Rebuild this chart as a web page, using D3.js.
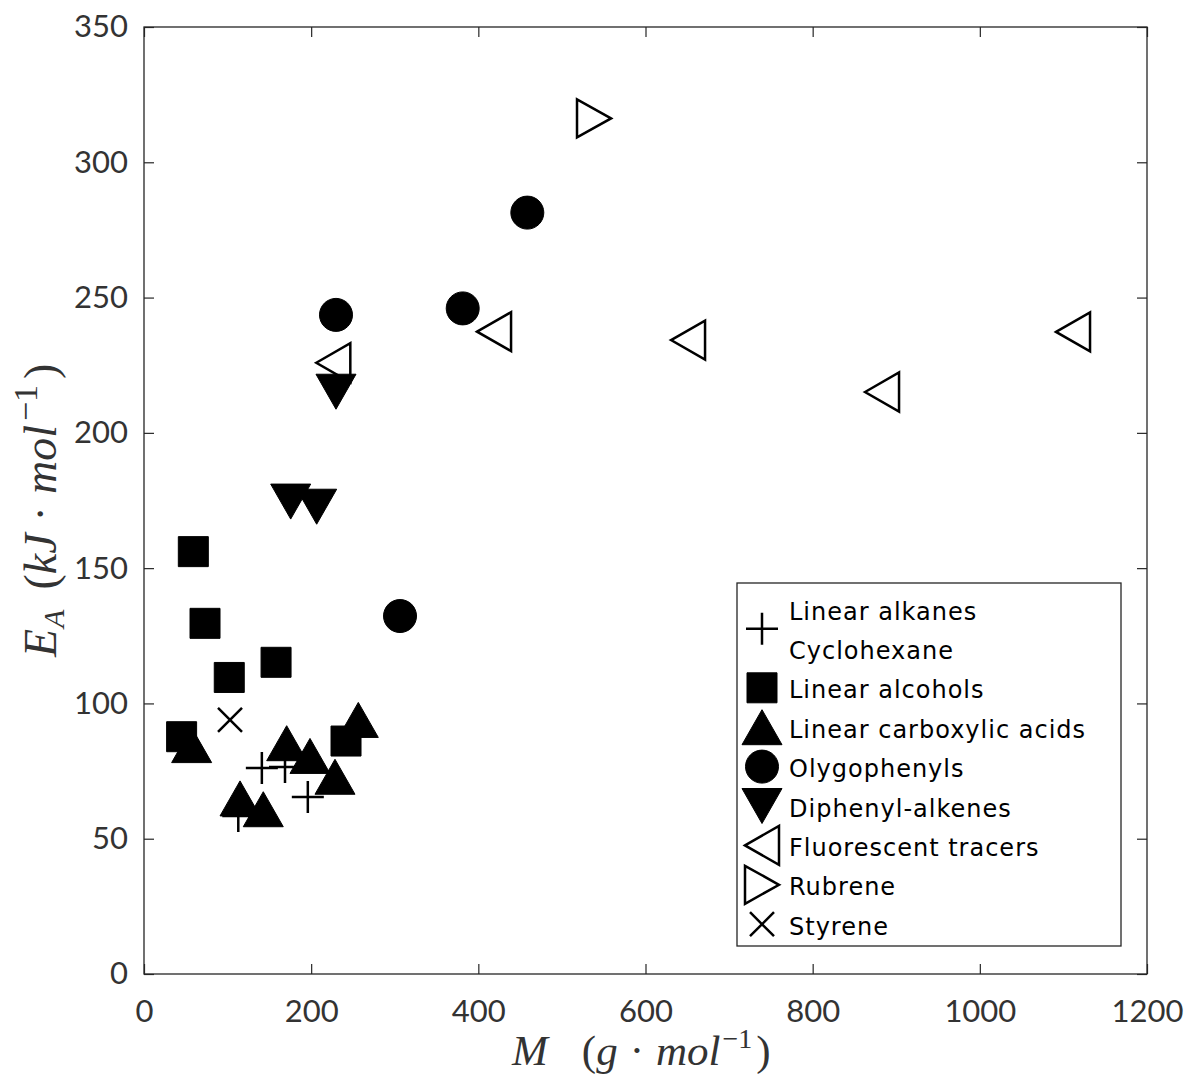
<!DOCTYPE html>
<html>
<head>
<meta charset="utf-8">
<script src="https://cdn.jsdelivr.net/npm/d3@7"></script>
<style>
  body { margin: 0; background: #fff; }
  .tick text { font-family: Lato, sans-serif; font-size: 31px; fill: #333; }
  .tick line { stroke: #262626; stroke-width: 1.2; }
</style>
</head>
<body>
<div class="vis-scatter"></div>
<script>
// axis ticks
const xTicks = [0, 200, 400, 600, 800, 1000, 1200];
const yTicks = [0, 50, 100, 150, 200, 250, 300, 350];

// series (M in g/mol, EA in kJ/mol)
const alkanesM = [112.8, 141, 168.7, 196];
const alkanesE = [58.4, 76.1, 76.5, 65.4];
const alcoholsM = [59, 73, 102, 158, 45, 241.7];
const alcoholsE = [156.1, 129.6, 109.6, 115.2, 87.7, 86.1];
const acidsM = [57, 114.9, 142.7, 170.7, 198.6, 228.5, 256.4];
const acidsE = [84.6, 64.9, 60.9, 85.3, 80.6, 72.9, 93.9];
const phenylsM = [229.7, 381.3, 458.6, 306.3];
const phenylsE = [243.6, 246, 281.4, 132.3];
const alkenesM = [229.7, 175.5, 206.6];
const alkenesE = [215.2, 174.6, 172.7];
const tracersM = [226.5, 418.8, 650.9, 883, 1111.5];
const tracersE = [225.9, 237.4, 234.3, 215.1, 237.3];
const rubreneM = [538.4];
const rubreneE = [316.2];
const styreneM = [102.9];
const styreneE = [93.9];

const seriesNames = [
    ['Linear alkanes', 'Cyclohexane'],
    ['Linear alcohols'],
    ['Linear carboxylic acids'],
    ['Olygophenyls'],
    ['Diphenyl-alkenes'],
    ['Fluorescent tracers'],
    ['Rubrene'],
    ['Styrene'],
];
const seriesShapes = ['plus', 'square', 'up', 'circle', 'down', 'left', 'right', 'times'];
const seriesM = [alkanesM, alcoholsM, acidsM, phenylsM, alkenesM, tracersM, rubreneM, styreneM];
const seriesE = [alkanesE, alcoholsE, acidsE, phenylsE, alkenesE, tracersE, rubreneE, styreneE];

// marker paths centred on 0,0
const markers = {
    plus: 'M-16,0H16M0,-16V16',
    times: 'M-12,-12L12,12M-12,12L12,-12',
    square: 'M-15,-15H15V15H-15Z',
    circle: 'M16.5,0A16.5,16.5 0 1,1 -16.5,0A16.5,16.5 0 1,1 16.5,0Z',
    up: 'M0,-17.5L20,17.5L-20,17.5Z',
    down: 'M0,17.5L20,-17.5L-20,-17.5Z',
    left: 'M-17,0L17,-19.5L17,19.5Z',
    right: 'M17,0L-17,-19L-17,19Z',
};
const filled = { square: true, circle: true, up: true, down: true };

const styleMarker = (sel, shape) => {
    sel.attr('d', markers[shape])
        .attr('fill', filled[shape] ? '#000' : 'none')
        .attr('stroke', '#000')
        .attr('stroke-width', filled[shape] ? 1 : 2.5)
        .attr('stroke-linejoin', 'miter');
};

const W = 1185, H = 1082;
const margin = { top: 27, right: 38, bottom: 108, left: 144 };
const width = W - margin.left - margin.right;
const height = H - margin.top - margin.bottom;

const svg = d3.select('.vis-scatter')
    .append('svg')
    .attr('width', W)
    .attr('height', H);

const g = svg.append('g')
    .attr('transform', 'translate(' + margin.left + ',' + margin.top + ')');

const x = d3.scaleLinear().domain([0, 1200]).range([0, width]);
const y = d3.scaleLinear().domain([0, 350]).range([height, 0]);

// axes, ticks pointing inwards
g.append('g')
    .attr('transform', 'translate(0,' + height + ')')
    .call(d3.axisBottom(x).tickValues(xTicks).tickFormat(d3.format('d'))
        .tickSizeInner(-10).tickSizeOuter(0).tickPadding(26))
    .call(a => a.select('.domain').remove());
g.append('g')
    .call(d3.axisLeft(y).tickValues(yTicks).tickFormat(d3.format('d'))
        .tickSizeInner(-10).tickSizeOuter(0).tickPadding(16))
    .call(a => a.select('.domain').remove());
g.append('g')
    .call(d3.axisTop(x).tickValues(xTicks).tickSizeInner(-10).tickSizeOuter(0).tickFormat(''))
    .call(a => a.select('.domain').remove());
g.append('g')
    .attr('transform', 'translate(' + width + ',0)')
    .call(d3.axisRight(y).tickValues(yTicks).tickSizeInner(-10).tickSizeOuter(0).tickFormat(''))
    .call(a => a.select('.domain').remove());

g.append('rect')
    .attr('width', width)
    .attr('height', height)
    .attr('fill', 'none')
    .attr('stroke', '#262626')
    .attr('stroke-width', 1.3);

// points
seriesShapes.forEach((shape, i) => {
    g.append('g')
        .selectAll('path')
        .data(seriesM[i].map((m, j) => [m, seriesE[i][j]]))
        .join('path')
        .attr('transform', d => 'translate(' + x(d[0]) + ',' + y(d[1]) + ')')
        .call(styleMarker, shape);
});

// legend
const legend = svg.append('g').attr('transform', 'translate(737,583)');
legend.append('rect')
    .attr('width', 384)
    .attr('height', 363)
    .attr('fill', '#fff')
    .attr('stroke', '#262626')
    .attr('stroke-width', 1.3);

const rowH = 39.4;
let row = 0;
seriesNames.forEach((names, i) => {
    const cy = 28 + rowH * (row + (names.length - 1) / 2);
    legend.append('path')
        .attr('transform', 'translate(25,' + (cy - 2) + ')')
        .call(styleMarker, seriesShapes[i]);
    names.forEach((name, k) => {
        legend.append('text')
            .attr('x', 52)
            .attr('y', 28 + rowH * (row + k) + 8.5)
            .attr('font-family', '"DejaVu Sans", sans-serif')
            .attr('font-size', 24)
            .attr('letter-spacing', 1)
            .attr('fill', '#000')
            .text(name);
    });
    row += names.length;
});

// axis labels
const xl = svg.append('text')
    .attr('x', 512)
    .attr('y', 1065)
    .attr('font-family', '"Liberation Serif", serif')
    .attr('font-size', 43)
    .attr('fill', '#333');
xl.append('tspan').attr('font-style', 'italic').text('M');
xl.append('tspan').attr('dx', 34).text('(');
xl.append('tspan').attr('font-style', 'italic').text('g');
xl.append('tspan').attr('dx', 12).text('·');
xl.append('tspan').attr('dx', 12).attr('font-style', 'italic').text('mol');
xl.append('tspan').attr('dx', 2).attr('dy', -17).attr('font-size', 28).text('−1');
xl.append('tspan').attr('dx', 4).attr('dy', 17).text(')');

const yl = svg.append('text')
    .attr('transform', 'translate(56,657) rotate(-90)')
    .attr('font-family', '"Liberation Serif", serif')
    .attr('font-size', 46)
    .attr('fill', '#333');
yl.append('tspan').attr('font-style', 'italic').text('E');
yl.append('tspan').attr('dx', 1).attr('dy', 8).attr('font-size', 30).attr('font-style', 'italic').text('A');
yl.append('tspan').attr('dy', -8).attr('dx', 20).text('(');
yl.append('tspan').attr('font-style', 'italic').text('kJ');
yl.append('tspan').attr('dx', 12).text('·');
yl.append('tspan').attr('dx', 12).attr('font-style', 'italic').text('mol');
yl.append('tspan').attr('dx', 4).attr('dy', -19).attr('font-size', 34).text('−1');
yl.append('tspan').attr('dx', 6).attr('dy', 19).text(')');
</script>
</body>
</html>
